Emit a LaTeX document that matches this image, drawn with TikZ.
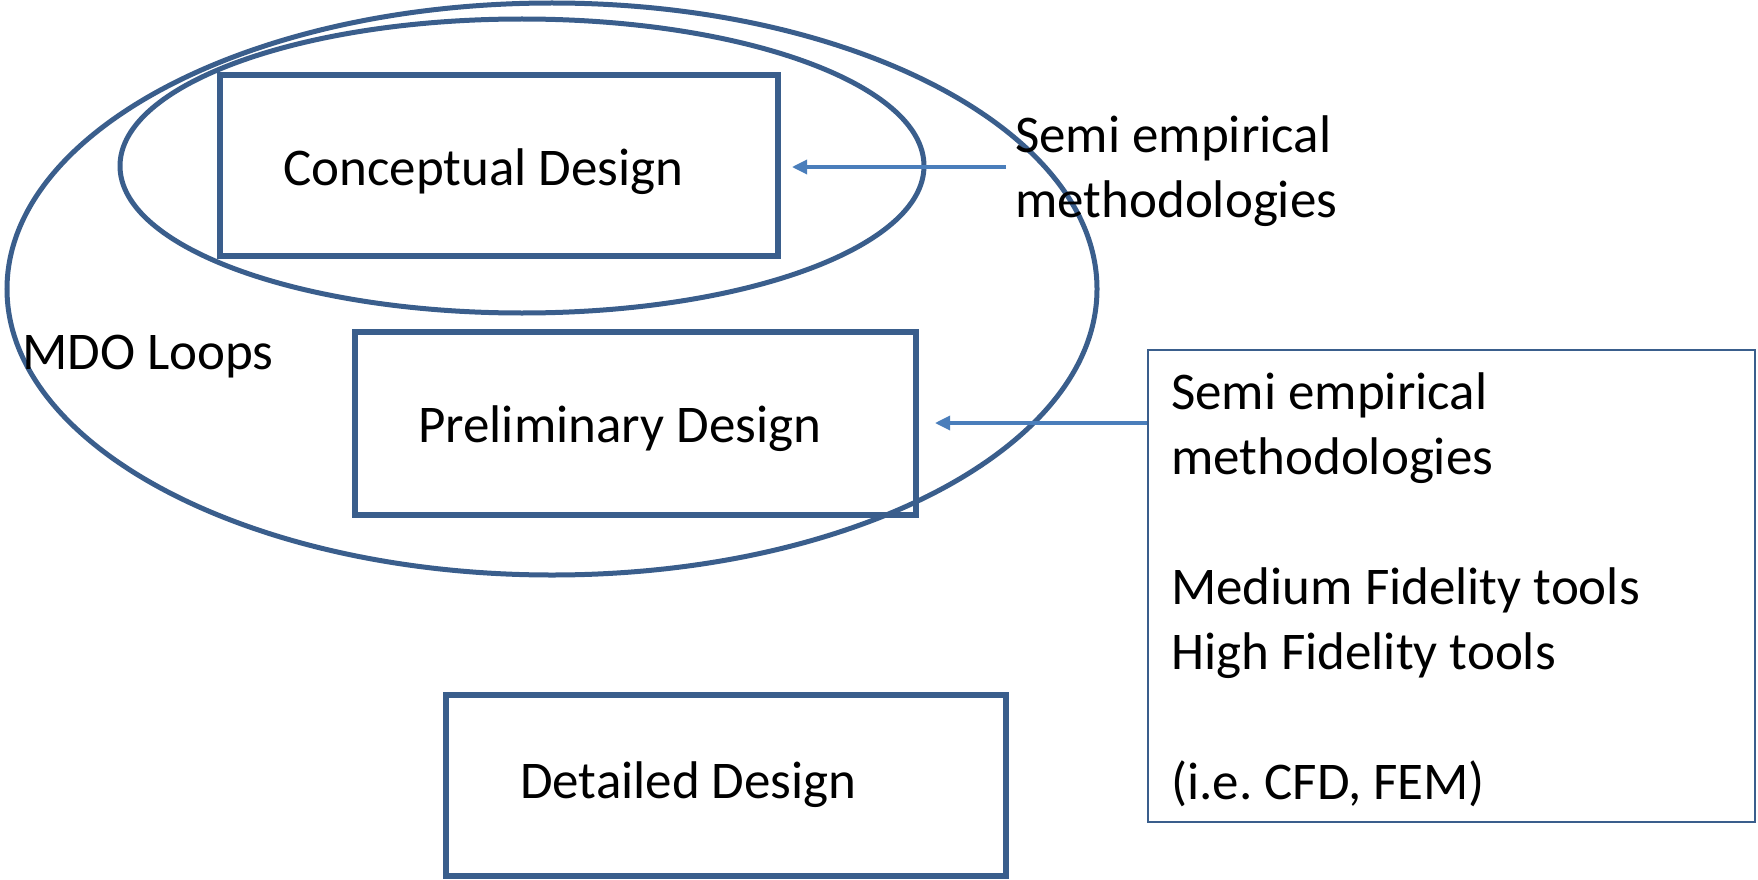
\documentclass[tikz,border=0pt]{standalone}
\usepackage{fontspec}
\setmainfont{Carlito}
\usetikzlibrary{arrows.meta,shapes.geometric}
\definecolor{mainblue}{RGB}{58,94,140}
\definecolor{arrblue}{RGB}{74,126,187}
\tikzset{
  stagebox/.style={draw=mainblue,line width=5.5pt,minimum width=#1,minimum height=181pt,inner sep=0pt},
  loop/.style={draw=mainblue,line width=5pt,ellipse,inner sep=0pt},
  lbl/.style={anchor=base west,inner sep=0pt,font=\fontsize{53}{65}\selectfont,text=black},
  arr/.style={draw=arrblue,line width=3.3pt,-{Triangle[length=15pt,width=14pt]}},
}
\frenchspacing
\begin{document}
\begin{tikzpicture}[x=1pt,y=-1pt]
\useasboundingbox (0,0) rectangle (1758,880);
% ellipses
\node[loop,minimum width=1090pt,minimum height=572pt] (outer) at (552,289) {};
\node[loop,minimum width=804pt,minimum height=294pt] (inner) at (522,166) {};
% stage boxes
\node[stagebox=558pt] (concept) at (499,165.5) {};
\node[stagebox=561pt,minimum height=183pt] (prelim) at (635.5,423.5) {};
\node[stagebox=560pt] (detail) at (726,785.5) {};
% right box
\node[draw=mainblue,line width=2pt,minimum width=607pt,minimum height=472pt,inner sep=0pt] (tools) at (1451.5,586) {};
% texts
\node[lbl] (tconcept) at (283,185) {Conceptual Design};
\node[lbl] (tprelim) at (418,442) {Preliminary Design};
\node[lbl] (tdetail) at (520,798) {Detailed Design};
\node[lbl] (tmdo) at (22,369) {MDO Loops};
\node[lbl] (tsemi1) at (1015,152) {Semi empirical};
\node[lbl] (tsemi2) at (1015,217) {methodologies};
\node[lbl] (r1) at (1171,409) {Semi empirical};
\node[lbl] (r2) at (1171,474) {methodologies};
\node[lbl] (r3) at (1171,604) {Medium Fidelity tools};
\node[lbl] (r4) at (1171,669) {High Fidelity tools};
\node[lbl] (r5) at (1171,799) {(i.e.\ CFD, FEM)};
% arrows
\coordinate (a1s) at (1006,167);
\coordinate (a1e) at (792,167);
\coordinate (a2e) at (935,423);
\draw[arr] (a1s) -- (a1e);
\draw[arr] (tools.west |- a2e) -- (a2e);
\end{tikzpicture}
\end{document}
